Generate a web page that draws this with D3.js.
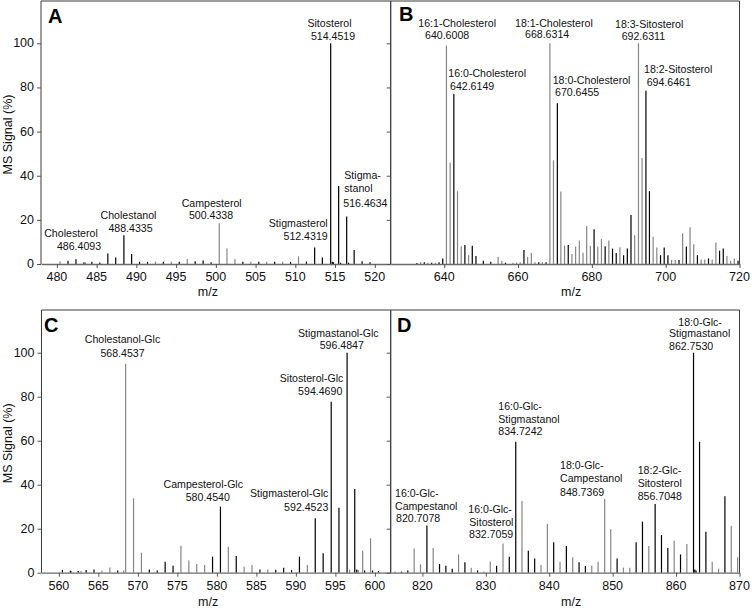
<!DOCTYPE html>
<html><head><meta charset="utf-8">
<script src="https://cdn.jsdelivr.net/npm/d3@7"></script>
<style>body{margin:0;background:#fff}svg{display:block;font-family:"Liberation Sans",Arial,sans-serif}</style>
</head><body><svg id="c" width="752" height="615"></svg>
<script>
// ---------------- DATA ----------------
const yTicks = [0, 20, 40, 60, 80, 100];
const ticksA = [480, 485, 490, 495, 500, 505, 510, 515, 520];
const ticksB = [640, 660, 680, 700, 720];
const ticksC = [560, 565, 570, 575, 580, 585, 590, 595, 600];
const ticksD = [820, 830, 840, 850, 860, 870];

// Panel A: free sterols  [m/z, relative intensity %]
const A_black = [[481.4,1.5],[482.4,2.2],[483.4,0.8],[484.4,1],[485.4,0.7],[486.41,4.8],[487.4,3],[488.43,13],[489.4,4.5],[490.4,1],[491.4,1],[493.4,1],[495.4,1],[497.4,1.2],[498.4,1.6],[499.4,0.8],[503.4,1],[505.4,1],[507.4,1],[509.4,1],[511.4,1.1],[512.43,7.5],[513.4,3],[514.45,100],[514.65,1],[514.8,0.8],[515.45,35.3],[515.7,0.6],[516.46,21.5],[516.7,0.6],[517.4,6.3],[518.4,1.2],[519.4,0.8]];
const A_gray = [[480.4,1.2],[483.6,0.7],[492.4,1],[494.4,1],[496.4,2.3],[500.43,18.5],[501.4,7],[502.4,2.2],[504.4,1],[506.4,1],[508.4,1],[510.4,3.5]];

// Panel B: steryl esters
const B_black = [[632.6,0.5],[634.6,0.8],[636.6,0.6],[638.6,0.8],[639.6,2.5],[642.61,77],[645.6,8.6],[647.6,8.3],[648.6,3.6],[650.6,1.5],[652.6,1],[656.6,0.6],[661.6,6.3],[665.6,0.8],[667.6,0.8],[670.65,72.8],[673.6,8.6],[680.6,15.7],[683.6,8],[685.6,7],[686.6,5],[688.6,4],[689.6,7],[690.6,22.2],[694.65,78.5],[695.6,33],[698.6,4],[699.6,7.5],[700.6,4],[703.6,1.8],[705.6,7.9],[708.6,4],[711.6,2.5],[714.6,6],[715.6,7],[719.6,1.5]];
const B_gray = [[633.6,0.8],[635.6,0.6],[637.6,0.6],[640.6,99],[641.6,46],[643.6,33],[644.6,8],[646.6,4],[654.6,3.3],[655.6,1.5],[658.6,0.6],[659.6,0.6],[660.6,0.8],[662.6,3.3],[663.6,5],[664.6,0.8],[666.6,0.8],[668.63,100],[669.6,47],[671.6,32.8],[672.6,8.3],[674.6,4.5],[675.6,7.9],[676.6,10.6],[677.6,5.1],[678.6,17.2],[679.6,8.3],[681.6,7.9],[682.6,11.3],[684.6,10.6],[687.6,7.6],[691.6,13],[692.63,100],[693.6,48],[696.6,12.4],[697.6,7.5],[701.6,1.8],[702.6,1.8],[704.6,13.9],[706.6,16.6],[707.6,9],[709.6,2],[710.6,2],[712.6,2],[713.6,9.7],[716.6,3.6],[717.6,1.5],[718.6,2.5]];

// Panel C: steryl glucosides
const C_black = [[560.45,1.3],[561.45,0.9],[562.45,0.8],[563.45,1.2],[564.45,1.4],[567.45,1],[571.45,1.5],[572.45,1],[573.45,5],[574.45,3.2],[579.45,7.3],[580.45,30],[582.45,7.6],[585.45,1.5],[587.45,1.3],[588.45,2.3],[589.45,1.2],[590.45,7.3],[592.45,24.7],[593.45,8.8],[594.47,77.7],[595.45,29.5],[596.48,100],[597.45,38],[597.7,1.5],[598.7,1],[599.7,1],[600.45,0.8]];
const C_gray = [[561.6,0.8],[562.8,0.8],[565.45,1],[566.45,2.4],[568.2,1],[568.45,95],[569.45,33.8],[570.45,9.1],[575.45,12.3],[576.45,5.5],[577.45,4],[578.45,3.5],[581.45,11.8],[583.45,2.7],[584.45,3.5],[586.45,1.5],[591.45,3.5],[596.8,1.3],[597.9,1.2],[598.45,10],[599.45,15.6]];

// Panel D: acylated steryl glucosides
const D_black = [[816.7,0.5],[817.7,1],[820.71,21.4],[822.7,4],[823.7,3.2],[824.7,1.8],[826.7,4.7],[828.7,1],[831.7,3.2],[833.7,7.3],[834.72,59.5],[836.7,10],[837.7,6.5],[840.7,13.8],[842.7,12.1],[844.7,4.7],[845.7,3],[850.7,6.5],[853.7,13.8],[854.7,23.2],[856.7,31.2],[857.7,17.1],[858.7,11.2],[860.7,8.3],[862.75,100],[862.95,1.5],[863.15,1],[863.7,59.5],[864.7,18.6],[867.7,34.8]];
const D_gray = [[815.7,0.5],[818.7,11],[819.7,3.8],[821.7,11.2],[825.7,8.3],[827.7,2.3],[829.7,0.6],[830.7,5],[832.71,13.3],[835.7,32.6],[838.7,3.5],[839.7,22.1],[841.7,5],[843.7,7],[846.7,3.2],[847.7,5],[848.74,33.5],[849.7,19.7],[851.7,2.3],[852.7,2.3],[855.7,12.1],[859.7,14.5],[861.7,13],[865.7,5],[866.7,1.8],[868.7,21.2],[869.7,7]];

// Annotation texts
const labelsA = [["Cholesterol","486.4093"],["Cholestanol","488.4335"],["Campesterol","500.4338"],["Stigmasterol","512.4319"],["Sitosterol","514.4519"],["Stigma-","stanol","516.4634"]];
const labelsB = [["16:1-Cholesterol","640.6008"],["16:0-Cholesterol","642.6149"],["18:1-Cholesterol","668.6314"],["18:0-Cholesterol","670.6455"],["18:3-Sitosterol","692.6311"],["18:2-Sitosterol","694.6461"]];
const labelsC = [["Cholestanol-Glc","568.4537"],["Campesterol-Glc","580.4540"],["Stigmasterol-Glc","592.4523"],["Sitosterol-Glc","594.4690"],["Stigmastanol-Glc","596.4847"]];
const labelsD = [["16:0-Glc-","Campestanol","820.7078"],["16:0-Glc-","Sitosterol","832.7059"],["16:0-Glc-","Stigmastanol","834.7242"],["18:0-Glc-","Campestanol","848.7369"],["18:2-Glc-","Sitosterol","856.7048"],["18:0-Glc-","Stigmastanol","862.7530"]];

// ---------------- LAYOUT (pixel placement of labels: [x, y, anchor] per line) ----------------
const placeA = [[[71,233,"middle"],[79,246,"middle"]],[[128.5,215,"middle"],[130.5,228,"middle"]],[[211.7,202.7,"middle"],[211,215.3,"middle"]],[[327.7,223,"end"],[327.7,236,"end"]],[[329.5,23.3,"middle"],[333,35.7,"middle"]],[[344.3,175,"start"],[344.3,188.3,"start"],[343.3,202.7,"start"]]];
const placeB = [[[418.3,22.7,"start"],[425,35,"start"]],[[448.3,73.3,"start"],[450,86,"start"]],[[515,22.7,"start"],[525,34.3,"start"]],[[552.7,80,"start"],[555,92.3,"start"]],[[615,24,"start"],[621.7,36,"start"]],[[644,69,"start"],[646.7,81.7,"start"]]];
const placeC = [[[122.5,339.3,"middle"],[122.5,352.7,"middle"]],[[203.3,484.3,"middle"],[207.8,496.7,"middle"]],[[328.3,493.3,"end"],[328.3,507.3,"end"]],[[343.3,378.3,"end"],[342.3,390.7,"end"]],[[338.3,332.7,"middle"],[341.8,345,"middle"]]];
const placeD = [[[395,492.7,"start"],[395,506,"start"],[396,518.3,"start"]],[[468.3,509.3,"start"],[469.3,521.7,"start"],[469,534,"start"]],[[498.3,406,"start"],[498.3,419,"start"],[498.3,431,"start"]],[[560,465,"start"],[560,478.3,"start"],[560,491.7,"start"]],[[637.7,470,"start"],[637.7,483.3,"start"],[637.7,496,"start"]],[[678.3,321.7,"start"],[669,333.3,"start"],[669,346,"start"]]];

const panels = [
  {letter:"A", domain:[478,522], xr:[41,390.7], base:264, y100:43.3, top:1, ticks:ticksA, black:A_black, gray:A_gray, labels:labelsA, place:placeA, yLabels:true, tickLabY:277, mzY:292, letterXY:[48,23]},
  {letter:"B", domain:[625.5,720], xr:[390.7,739.5], base:264, y100:43.3, top:1, ticks:ticksB, black:B_black, gray:B_gray, labels:labelsB, place:placeB, yLabels:false, tickLabY:277, mzY:292, letterXY:[399,21]},
  {letter:"C", domain:[557.8,602], xr:[41.5,390.7], base:572.7, y100:352.7, top:310, ticks:ticksC, black:C_black, gray:C_gray, labels:labelsC, place:placeC, yLabels:true, tickLabY:586, mzY:602, letterXY:[44,332]},
  {letter:"D", domain:[815,870], xr:[390.7,739.5], base:572.7, y100:352.7, top:310, ticks:ticksD, black:D_black, gray:D_gray, labels:labelsD, place:placeD, yLabels:false, tickLabY:586, mzY:602, letterXY:[397,332]}
];

const svg = d3.select("#c");
const FS = 12.5, AFS = 10.6;

panels.forEach(p => {
  const g = svg.append("g");
  const x = d3.scaleLinear().domain(p.domain).range(p.xr);
  const y = d3.scaleLinear().domain([0,100]).range([p.base, p.y100]);

  // peaks: gray series then black series
  [[p.gray,"#858585"],[p.black,"#000"]].forEach(([ser,col]) => {
    g.append("g").selectAll("line").data(ser).join("line")
      .attr("x1", d => x(d[0])).attr("x2", d => x(d[0]))
      .attr("y1", y(0)).attr("y2", d => y(d[1]))
      .attr("stroke", col).attr("stroke-width", 1.2);
  });

  // frame (top, left, right)
  g.append("path")
    .attr("d", `M${p.xr[0]},${p.base}V${p.top}H${p.xr[1]}V${p.base}`)
    .attr("fill","none").attr("stroke","#3a3a3a").attr("stroke-width",1);

  // x axis
  const xa = g.append("g").attr("transform", `translate(0,${p.base})`)
    .call(d3.axisBottom(x).tickValues(p.ticks).tickSize(4).tickSizeOuter(0).tickFormat(d3.format("d")));
  xa.select(".domain").attr("stroke","#6a6a6a").attr("stroke-width",1.3);
  xa.selectAll(".tick line").attr("stroke","#555");
  xa.selectAll(".tick text").remove();
  g.append("g").selectAll("text").data(p.ticks).join("text")
    .attr("x", d => x(d)).attr("y", p.tickLabY)
    .attr("text-anchor","middle").attr("dominant-baseline","central")
    .attr("font-size", FS).attr("fill","#111").text(d => d);

  // y axis ticks
  const ya = g.append("g").attr("transform", `translate(${p.xr[0]},0)`)
    .call(d3.axisLeft(y).tickValues(yTicks).tickSize(4).tickSizeOuter(0));
  ya.select(".domain").remove();
  ya.selectAll(".tick line").attr("stroke","#555");
  ya.selectAll(".tick text").remove();
  if (p.yLabels) {
    g.append("g").selectAll("text").data(yTicks).join("text")
      .attr("x", p.xr[0]-7).attr("y", d => y(d))
      .attr("text-anchor","end").attr("dominant-baseline","central")
      .attr("font-size", FS).attr("fill","#111").text(d => d);
    g.append("text")
      .attr("transform", `translate(8,${(p.base + p.top)/2 + 2}) rotate(-90)`)
      .attr("text-anchor","middle").attr("dominant-baseline","central")
      .attr("font-size", FS).attr("fill","#111").text("MS Signal (%)");
  }

  // m/z label
  g.append("text").attr("x", (p.xr[0]+p.xr[1])/2 + (p.yLabels ? -8 : 6)).attr("y", p.mzY)
    .attr("text-anchor","middle").attr("dominant-baseline","central")
    .attr("font-size", FS).attr("fill","#111").text("m/z");

  // panel letter
  g.append("text").attr("x", p.letterXY[0]).attr("y", p.letterXY[1])
    .attr("font-size", 20).attr("font-weight","bold").attr("fill","#000").text(p.letter);

  // annotations
  p.labels.forEach((lines, i) => {
    lines.forEach((t, j) => {
      const pl = p.place[i][j];
      g.append("text").attr("x", pl[0]).attr("y", pl[1])
        .attr("text-anchor", pl[2]).attr("dominant-baseline","central")
        .attr("font-size", AFS).attr("fill","#111").text(t);
    });
  });
});
</script></body></html>
